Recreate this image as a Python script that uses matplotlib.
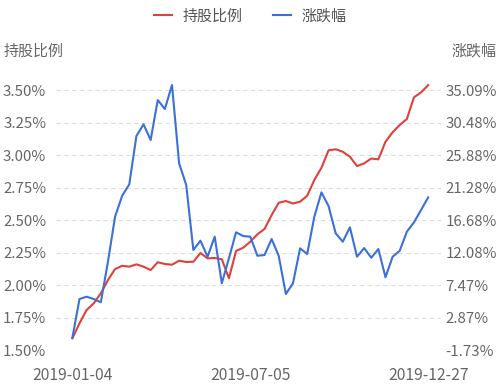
import pandas as pd
import matplotlib.pyplot as plt

plt.rcParams['font.family'] = ['Noto Sans CJK SC', 'DejaVu Sans']

# weekly dates (Spring Festival week has no trading day, National Day week ends 09-30)
dates = [d.strftime("%Y-%m-%d") for d in pd.date_range("2019-01-04", "2019-12-27", freq="7D")
         if d.strftime("%Y-%m-%d") != "2019-02-08"]
dates = ["2019-09-30" if d == "2019-10-04" else d for d in dates]

# 持股比例 (%), left axis
holding = [1.59, 1.705, 1.808, 1.859, 1.936, 2.038, 2.123, 2.148, 2.141, 2.159,
           2.141, 2.115, 2.175, 2.162, 2.156, 2.187, 2.177, 2.179, 2.246, 2.205,
           2.208, 2.198, 2.052, 2.262, 2.287, 2.333, 2.390, 2.431, 2.538, 2.633,
           2.646, 2.627, 2.641, 2.687, 2.808, 2.902, 3.036, 3.044, 3.025, 2.987,
           2.915, 2.936, 2.973, 2.967, 3.102, 3.175, 3.231, 3.277, 3.444, 3.482,
           3.538]

# 涨跌幅 (%), right axis
change = [0.0, 5.49, 5.82, 5.49, 5.03, 10.77, 17.15, 20.12, 21.74, 28.58,
          30.23, 28.01, 33.67, 32.40, 35.80, 24.71, 21.64, 12.43, 13.75, 11.48,
          14.32, 7.72, 11.26, 14.94, 14.41, 14.32, 11.62, 11.72, 13.99, 11.58,
          6.20, 7.72, 12.67, 11.86, 17.15, 20.60, 18.66, 14.80, 13.61, 15.65,
          11.48, 12.71, 11.34, 12.57, 8.57, 11.48, 12.33, 15.02, 16.35, 18.10,
          19.89]

left_ticks = [1.50, 1.75, 2.00, 2.25, 2.50, 2.75, 3.00, 3.25, 3.50]
right_ticks = [-1.73, 2.87, 7.47, 12.08, 16.68, 21.28, 25.88, 30.48, 35.09]
shown_dates = ["2019-01-04", "2019-07-05", "2019-12-27"]

RED = "#e0403a"
BLUE = "#3b70d8"
GREY = "#666666"
FS = 10.8

fig = plt.figure(figsize=(5, 3.85), dpi=100)
ax = fig.add_axes([0.112, 0.0909, 0.77, 0.709])
ax2 = ax.twinx()

x = list(range(len(dates)))
l1, = ax.plot(x, holding, color=RED, lw=1.5, label="持股比例", zorder=3)
l2, = ax2.plot(x, change, color=BLUE, lw=1.5, label="涨跌幅", zorder=3)

ax.set_ylim(1.5, 3.6)
ax2.set_ylim(-1.73, -1.73 + (3.6 - 1.5) / 0.25 * 4.6025)
ax.set_xlim(-2.3, len(dates) - 1 + 1.8)

ax.set_yticks(left_ticks)
ax.set_yticklabels([f"{v:.2f}%" for v in left_ticks])
ax2.set_yticks([-1.73 + i * 4.6025 for i in range(9)])
ax2.set_yticklabels([f"{v:.2f}%" for v in right_ticks])

pos = [dates.index(d) for d in shown_dates]
ax.set_xticks(pos)
ax.set_xticklabels(shown_dates, fontsize=11.3)

ax.grid(axis="y", color="#dddddd", lw=0.8, linestyle=(0, (4, 3)))
for a in (ax, ax2):
    for s in a.spines.values():
        s.set_visible(False)
    a.tick_params(length=0, labelsize=FS, colors=GREY)
ax.tick_params(axis="x", labelsize=11.3)
ax.tick_params(axis="y", pad=7)
ax.tick_params(axis="x", pad=12)
ax2.tick_params(axis="y", pad=3)

fig.text(0.008, 0.866, "持股比例", fontsize=FS, color=GREY, va="center", ha="left")
fig.text(0.992, 0.866, "涨跌幅", fontsize=FS, color=GREY, va="center", ha="right")

fig.legend(handles=[l1, l2], loc="upper center", bbox_to_anchor=(0.5, 1.012), ncol=2,
           frameon=False, fontsize=FS, labelcolor="#555555", handlelength=1.2,
           handletextpad=0.73, columnspacing=2.0)

fig.savefig("out.png", dpi=100)
